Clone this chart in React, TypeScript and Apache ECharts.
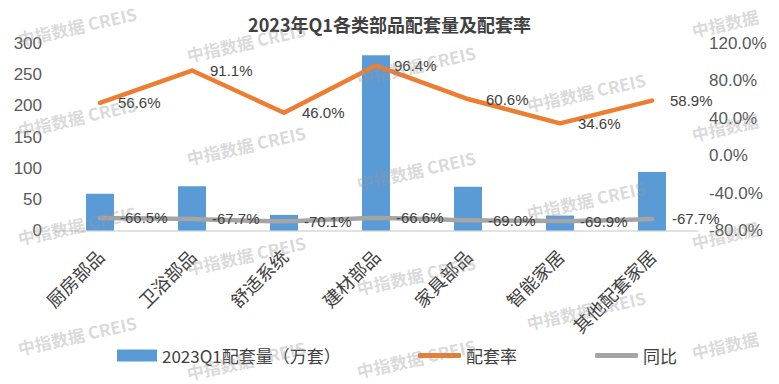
import React, { useEffect, useRef } from "react";
import * as echarts from "echarts";

const categories = ["厨房部品", "卫浴部品", "舒适系统", "建材部品", "家具部品", "智能家居", "其他配套家居"];
const volume = [59, 71, 25, 281, 70, 24, 94];
const rate = [56.6, 91.1, 46.0, 96.4, 60.6, 34.6, 58.9];
const yoy = [-66.5, -67.7, -70.1, -66.6, -69.0, -69.9, -67.7];
const seriesNames = ["2023Q1配套量（万套）", "配套率", "同比"];
const titleText = "2023年Q1各类部品配套量及配套率";

const wmFull: [number, number][] = [
  [77, 26], [77, 117], [77, 225], [77, 335],
  [246, 42], [246, 145], [246, 255], [246, 360],
  [416, 65], [416, 170], [416, 275], [416, 358],
  [586, 92], [586, 200], [586, 310],
];
const wmShort: [number, number][] = [[725, 23], [725, 127], [725, 235], [725, 345]];

export default function App() {
  const ref = useRef<HTMLDivElement>(null);
  useEffect(() => {
    if (!ref.current) return;
    const chart = echarts.init(ref.current, null, { renderer: "svg" });
    const sans = "'Liberation Sans', Arial, 'Noto Sans CJK SC', sans-serif";
    const cjk = "'Noto Sans CJK SC', sans-serif";
    const wmStyle = (text: string) => ({
      text,
      fill: "rgba(150,150,150,0.36)",
      font: "bold 17px 'Noto Sans CJK SC', 'Liberation Sans', sans-serif",
      align: "center",
      verticalAlign: "middle",
    });
    const graphics: any[] = [
      ...wmFull.map(([x, y]) => ({ type: "text", x, y, rotation: 0.22, z: 100, silent: true, style: wmStyle("中指数据 CREIS") })),
      ...wmShort.map(([x, y]) => ({ type: "text", x, y, rotation: 0.22, z: 100, silent: true, style: wmStyle("中指数据") })),
    ];
    const pct = (p: any) => Number(p.value).toFixed(1) + "%";
    chart.setOption({
      animation: false,
      title: {
        text: titleText,
        left: "center",
        top: 10,
        textStyle: { fontSize: 18, fontWeight: "bold", color: "#404040", fontFamily: cjk },
      },
      grid: { left: 54, right: 81, top: 43.5, bottom: 153.5, containLabel: false },
      legend: [
        {
          data: [seriesNames[0]], left: 117, top: 347, padding: 0, icon: "rect",
          itemWidth: 40, itemHeight: 12, textStyle: { fontSize: 17, color: "#404040", fontFamily: cjk },
        },
        {
          data: [seriesNames[1]], left: 418, top: 347, padding: 0, icon: "roundRect",
          itemWidth: 43, itemHeight: 5, itemStyle: { color: "#ED7D31" }, textStyle: { fontSize: 17, color: "#404040", fontFamily: cjk },
        },
        {
          data: [seriesNames[2]], left: 595, top: 347, padding: 0, icon: "roundRect",
          itemWidth: 43, itemHeight: 5, itemStyle: { color: "#A5A5A5" }, textStyle: { fontSize: 17, color: "#404040", fontFamily: cjk },
        },
      ],
      xAxis: {
        type: "category",
        data: categories,
        axisLine: { lineStyle: { color: "#D9D9D9", width: 1.5 } },
        axisTick: { show: false },
        axisLabel: { rotate: 45, interval: 0, margin: 22, fontSize: 18, color: "#404040", fontFamily: cjk },
      },
      yAxis: [
        {
          type: "value", min: 0, max: 300, interval: 50,
          splitLine: { show: false }, axisLine: { show: false }, axisTick: { show: false },
          axisLabel: { fontSize: 17, color: "#595959", fontFamily: sans, margin: 12 },
        },
        {
          type: "value", min: -80, max: 120, interval: 40,
          splitLine: { show: false }, axisLine: { show: false }, axisTick: { show: false },
          axisLabel: { fontSize: 17, color: "#595959", fontFamily: sans, margin: 11, formatter: (v: number) => v.toFixed(1) + "%" },
        },
      ],
      series: [
        { name: seriesNames[0], type: "bar", data: volume, barWidth: 28, itemStyle: { color: "#5B9BD5" }, yAxisIndex: 0 },
        {
          name: seriesNames[1], type: "line", data: rate, yAxisIndex: 1, symbol: "circle", symbolSize: 0, showSymbol: true, smooth: false,
          itemStyle: { color: "#ED7D31" }, lineStyle: { color: "#ED7D31", width: 4.5, cap: "round", join: "round" },
          label: { show: true, position: "right", distance: 18, fontSize: 15, color: "#404040", fontFamily: sans, formatter: pct },
          z: 3,
        },
        {
          name: seriesNames[2], type: "line", data: yoy, yAxisIndex: 1, symbol: "circle", symbolSize: 0, showSymbol: true, smooth: 0.3,
          itemStyle: { color: "#A5A5A5" }, lineStyle: { color: "#A5A5A5", width: 4.5, cap: "round", join: "round" },
          label: { show: true, position: "right", distance: 20, fontSize: 15, color: "#404040", fontFamily: sans, formatter: pct },
          z: 3,
        },
      ],
      graphic: graphics,
    });
    return () => chart.dispose();
  }, []);
  return <div ref={ref} style={{ position: "absolute", left: 0, top: 0, width: 779, height: 384, background: "#fff" }} />;
}
